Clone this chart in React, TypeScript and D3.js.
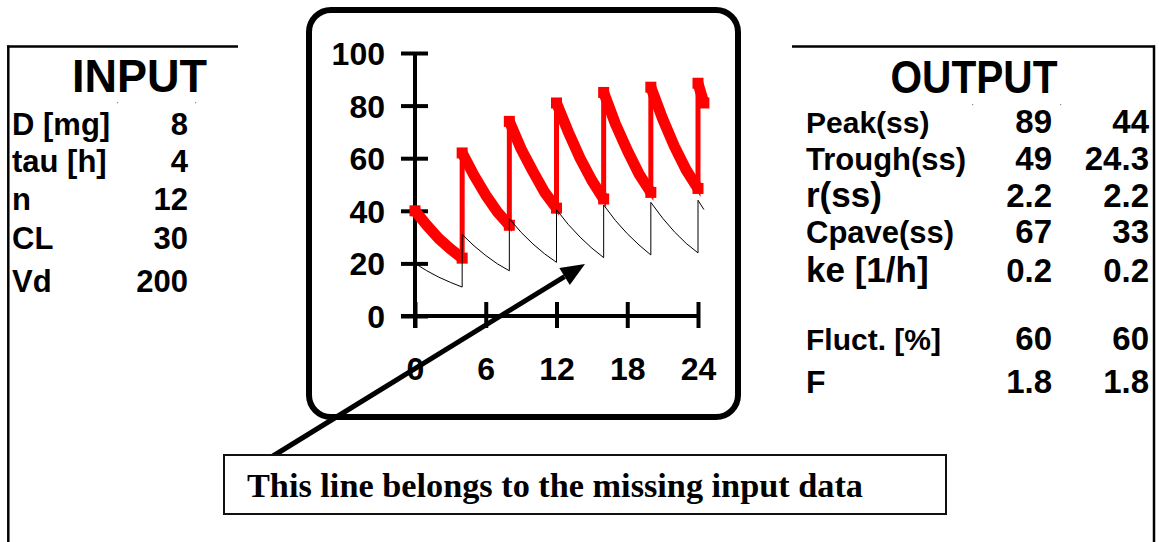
// @ts-nocheck
import React, { useEffect, useRef } from "react";
import * as d3 from "d3";

// hours after first dose; dose times appear twice (before / after the dose)
const hours = [
  0, 1, 2, 3, 4,
  4, 5, 6, 7, 8,
  8, 9, 10, 11, 12,
  12, 13, 14, 15, 16,
  16, 17, 18, 19, 20,
  20, 21, 22, 23, 24,
  24, 24.5,
];
// red curve: the given input data
const concInput = [
  40, 34.5, 29.5, 25.5, 22,
  62, 53.5, 46, 39.5, 34.5,
  74, 63.5, 55, 47, 41,
  81, 70, 60, 51.5, 44.5,
  85, 73, 63, 54, 47,
  87, 75, 64.5, 55.5, 48.5,
  88.5, 81,
];
// thin black curve: the missing input data
const concMissing = [
  20, 17.2, 14.8, 12.8, 11,
  31, 26.7, 23, 19.8, 17.2,
  37, 31.8, 27.4, 23.6, 20.4,
  40.4, 34.8, 30, 25.8, 22.2,
  42.2, 36.3, 31.3, 27, 23.2,
  43.2, 37.2, 32, 27.6, 24,
  44, 40.5,
];

const xTicks = [0, 6, 12, 18, 24];
const yTicks = [0, 20, 40, 60, 80, 100];

const inputLabels = ["D [mg]", "tau [h]", "n", "CL", "Vd"];
const inputValues = ["8", "4", "12", "30", "200"];

const outputLabels = ["Peak(ss)", "Trough(ss)", "r(ss)", "Cpave(ss)", "ke [1/h]", "Fluct. [%]", "F"];
const outputValues = ["89", "49", "2.2", "67", "0.2", "60", "1.8"];
const outputValuesMissing = ["44", "24.3", "2.2", "33", "0.2", "60", "1.8"];

const note = "This line belongs to the missing input data";

const SANS = "Liberation Sans, Arial, Helvetica, sans-serif";
const SERIF = "Liberation Serif, Times New Roman, serif";

export default function App() {
  const svgRef = useRef();

  useEffect(() => {
    const W = 1159;
    const H = 542;
    const svg = d3.select(svgRef.current);
    svg.selectAll("*").remove();
    svg.attr("width", W).attr("height", H);

    svg.append("rect").attr("width", W).attr("height", H).attr("fill", "white");

    // ---- side panels
    const panel = svg.append("g").attr("stroke", "black").attr("stroke-width", 2.5);
    panel.append("line").attr("x1", 7).attr("x2", 238).attr("y1", 46.5).attr("y2", 46.5);
    panel.append("line").attr("x1", 8.3).attr("x2", 8.3).attr("y1", 45.5).attr("y2", H);
    panel.append("line").attr("x1", 792).attr("x2", 1155).attr("y1", 46.5).attr("y2", 46.5);
    panel.append("line").attr("x1", 1154).attr("x2", 1154).attr("y1", 45.5).attr("y2", H);

    // tiny specks under the headings
    [[117, 102], [195, 102], [972, 104], [1060, 104]].forEach(([px, py]) =>
      svg.append("rect").attr("x", px).attr("y", py).attr("width", 1.2).attr("height", 1.2).attr("fill", "#888"),
    );

    // INPUT
    svg
      .append("text")
      .attr("x", 139.5)
      .attr("y", 92)
      .attr("text-anchor", "middle")
      .style("font", `bold 46px ${SANS}`)
      .attr("textLength", 135)
      .attr("lengthAdjust", "spacingAndGlyphs")
      .text("INPUT");

    const inputBase = [135, 172, 210, 249, 292];
    inputLabels.forEach((lab, i) => {
      svg.append("text").attr("x", 12).attr("y", inputBase[i]).style("font", `bold 31px ${SANS}`).text(lab);
      svg
        .append("text")
        .attr("x", 188)
        .attr("y", inputBase[i])
        .attr("text-anchor", "end")
        .style("font", `bold 31px ${SANS}`)
        .text(inputValues[i]);
    });

    // OUTPUT
    svg
      .append("text")
      .attr("x", 974)
      .attr("y", 93)
      .attr("text-anchor", "middle")
      .style("font", `bold 46px ${SANS}`)
      .attr("textLength", 167)
      .attr("lengthAdjust", "spacingAndGlyphs")
      .text("OUTPUT");

    const outBase = [133, 170, 207, 243, 282, 350, 393];
    const outLabelSize = [30, 31, 35, 31, 35, 30, 32];
    outputLabels.forEach((lab, i) => {
      svg
        .append("text")
        .attr("x", 806)
        .attr("y", outBase[i])
        .style("font", `bold ${outLabelSize[i]}px ${SANS}`)
        .text(lab);
      svg
        .append("text")
        .attr("x", 1052)
        .attr("y", outBase[i])
        .attr("text-anchor", "end")
        .style("font", `bold 33px ${SANS}`)
        .text(outputValues[i]);
      svg
        .append("text")
        .attr("x", 1149)
        .attr("y", outBase[i])
        .attr("text-anchor", "end")
        .style("font", `bold 33px ${SANS}`)
        .text(outputValuesMissing[i]);
    });

    // ---- chart frame
    svg
      .append("rect")
      .attr("x", 309)
      .attr("y", 10)
      .attr("width", 429)
      .attr("height", 407)
      .attr("rx", 22)
      .attr("fill", "white")
      .attr("stroke", "black")
      .attr("stroke-width", 6);

    const x = d3.scaleLinear().domain([0, 24]).range([415, 698]);
    const y = d3.scaleLinear().domain([0, 100]).range([316, 53]);

    // Y axis
    const yAxis = svg
      .append("g")
      .attr("transform", `translate(${x(0)},0)`)
      .call(d3.axisLeft(y).tickValues(yTicks).tickSizeInner(14).tickSizeOuter(0).tickPadding(16));
    yAxis.select(".domain").remove();
    yAxis.selectAll(".tick line").attr("x1", 13).attr("x2", -14).attr("stroke", "black").attr("stroke-width", 4);
    yAxis
      .selectAll("text")
      .attr("fill", "black")
      .attr("dy", "0.36em")
      .style("font", `bold 32px ${SANS}`);

    // X axis
    const xAxis = svg
      .append("g")
      .attr("transform", `translate(0,${y(0)})`)
      .call(d3.axisBottom(x).tickValues(xTicks).tickSizeInner(12).tickSizeOuter(0).tickPadding(29));
    xAxis.select(".domain").remove();
    xAxis.selectAll(".tick line").attr("y1", -14).attr("y2", 12).attr("stroke", "black").attr("stroke-width", 4);
    xAxis.selectAll("text").attr("fill", "black").style("font", `bold 32px ${SANS}`);

    svg
      .append("line")
      .attr("x1", x(0))
      .attr("x2", x(0))
      .attr("y1", y(100))
      .attr("y2", y(0) + 12)
      .attr("stroke", "black")
      .attr("stroke-width", 4);
    svg
      .append("line")
      .attr("x1", x(0) - 14)
      .attr("x2", x(24) + 2)
      .attr("y1", y(0))
      .attr("y2", y(0))
      .attr("stroke", "black")
      .attr("stroke-width", 4);

    // ---- curves
    const pts = (vals) => hours.map((h, i) => [x(h), y(vals[i])]);
    const line = d3.line();

    // split into dosing intervals (a repeated hour marks a dose)
    const segments = [];
    let start = 0;
    for (let i = 1; i <= hours.length; i++) {
      if (i === hours.length || hours[i] === hours[i - 1]) {
        segments.push([start, i]);
        start = i;
      }
    }

    const redPts = pts(concInput);
    svg
      .append("path")
      .attr("d", line(redPts))
      .attr("fill", "none")
      .attr("stroke", "#ff0000")
      .attr("stroke-width", 5)
      .attr("stroke-linejoin", "miter");

    segments.forEach(([a, b]) => {
      const seg = redPts.slice(a, b);
      svg
        .append("path")
        .attr("d", line(seg))
        .attr("fill", "none")
        .attr("stroke", "#ff0000")
        .attr("stroke-width", 11)
        .attr("stroke-linejoin", "round");
      if (b - a > 1) {
        [seg[0], seg[seg.length - 1]].forEach(([px, py]) =>
          svg
            .append("rect")
            .attr("x", px - 5.5)
            .attr("y", py - 5.5)
            .attr("width", 11)
            .attr("height", 11)
            .attr("fill", "#ff0000"),
        );
      }
    });

    svg
      .append("path")
      .attr("d", line(pts(concMissing)))
      .attr("fill", "none")
      .attr("stroke", "black")
      .attr("stroke-width", 1);

    // ---- arrow to the black line
    const x0 = 273, y0 = 456, tx = 585, ty = 264;
    const len = Math.hypot(tx - x0, ty - y0);
    const ux = (tx - x0) / len, uy = (ty - y0) / len;
    const bx = tx - ux * 24, by = ty - uy * 24;
    svg
      .append("line")
      .attr("x1", x0)
      .attr("y1", y0)
      .attr("x2", bx)
      .attr("y2", by)
      .attr("stroke", "black")
      .attr("stroke-width", 5);
    svg
      .append("polygon")
      .attr(
        "points",
        [
          [tx, ty],
          [bx - uy * 10, by + ux * 10],
          [bx + uy * 10, by - ux * 10],
        ].join(" "),
      )
      .attr("fill", "black");

    // ---- note box
    svg
      .append("rect")
      .attr("x", 224)
      .attr("y", 455)
      .attr("width", 722)
      .attr("height", 59)
      .attr("fill", "white")
      .attr("stroke", "#111")
      .attr("stroke-width", 2);
    svg
      .append("text")
      .attr("x", 247)
      .attr("y", 497)
      .style("font", `bold 34px ${SERIF}`)
      .attr("textLength", 616)
      .attr("lengthAdjust", "spacingAndGlyphs")
      .text(note);
  }, []);

  return <svg ref={svgRef} style={{ position: "absolute", left: 0, top: 0 }}></svg>;
}
